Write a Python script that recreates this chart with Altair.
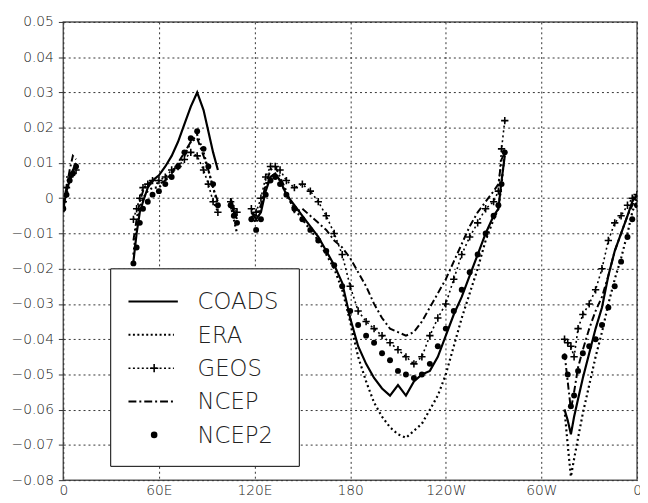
import altair as alt
import pandas as pd

SERIES = ["COADS", "ERA", "GEOS", "NCEP", "NCEP2"]

# ---- longitude grids (degrees east, 0..360) for each ocean segment ----
LON_GUINEA = [0, 2, 4, 6, 8]
LON_INDIAN = [44, 46, 48, 50, 53, 56, 60, 64, 68, 72, 76, 80, 84, 88, 91, 94, 97]
LON_INDONESIA = [105, 107, 109]
LON_PACIFIC = [118, 121, 124, 127, 130, 133, 136, 140, 145, 150, 155, 160, 165, 170,
               175, 180, 185, 190, 195, 200, 205, 210, 215, 220, 225, 230, 235, 240,
               245, 250, 255, 260, 265, 270, 273, 275, 277]
LON_ATLANTIC = [314.5, 316.5, 318.5, 320.5, 323, 326, 330, 334, 338, 342, 346, 350, 354, 357, 360]

# ---- values ----
COADS_GUINEA = [-0.003, 0.002, 0.005, 0.008, 0.009]
ERA_GUINEA = [-0.004, 0.001, 0.005, 0.008, 0.010]
GEOS_GUINEA = [-0.001, 0.003, 0.006, 0.007, 0.008]
NCEP_GUINEA = [-0.002, 0.003, 0.008, 0.012, 0.011]
NCEP2_GUINEA = [-0.003, 0.001, 0.005, 0.007, 0.009]

COADS_INDIAN = [-0.018, -0.010, -0.004, -0.001, 0.003, 0.005, 0.0065, 0.009, 0.012, 0.016,
                0.021, 0.026, 0.030, 0.025, 0.019, 0.013, 0.008]
ERA_INDIAN = [-0.016, -0.008, -0.003, 0.000, 0.002, 0.003, 0.003, 0.005, 0.007, 0.009,
              0.012, 0.016, 0.018, 0.013, 0.008, 0.003, -0.002]
GEOS_INDIAN = [-0.006, -0.003, 0.000, 0.003, 0.004, 0.005, 0.005, 0.006, 0.008, 0.009,
               0.011, 0.013, 0.012, 0.008, 0.004, -0.001, -0.004]
NCEP_INDIAN = [-0.012, -0.006, -0.001, 0.002, 0.004, 0.005, 0.004, 0.005, 0.007, 0.010,
               0.013, 0.016, 0.017, 0.012, 0.008, 0.003, -0.001]
NCEP2_INDIAN = [-0.0185, -0.014, -0.007, -0.003, -0.001, 0.001, 0.002, 0.004, 0.006, 0.009,
                0.013, 0.017, 0.019, 0.014, 0.009, 0.004, -0.002]

COADS_INDONESIA = [-0.001, -0.004, -0.005]
ERA_INDONESIA = [-0.002, -0.006, -0.010]
GEOS_INDONESIA = [-0.001, -0.003, -0.004]
NCEP_INDONESIA = [0.000, -0.003, -0.006]
NCEP2_INDONESIA = [-0.002, -0.005, -0.007]

COADS_PACIFIC = [-0.004, -0.006, -0.004, 0.002, 0.006, 0.007, 0.005, 0.001, -0.002, -0.005,
                 -0.008, -0.011, -0.015, -0.019, -0.024, -0.034, -0.042, -0.047, -0.051, -0.054,
                 -0.056, -0.053, -0.056, -0.052, -0.050, -0.049, -0.045, -0.039, -0.033, -0.028,
                 -0.022, -0.016, -0.010, -0.005, -0.003, 0.005, 0.012]
ERA_PACIFIC = [-0.005, -0.007, -0.003, 0.003, 0.006, 0.007, 0.005, 0.001, -0.003, -0.006,
               -0.009, -0.012, -0.016, -0.020, -0.026, -0.035, -0.045, -0.052, -0.058, -0.062,
               -0.065, -0.067, -0.068, -0.066, -0.064, -0.060, -0.056, -0.050, -0.042, -0.034,
               -0.027, -0.020, -0.012, -0.006, -0.003, 0.004, 0.013]
GEOS_PACIFIC = [-0.003, -0.004, 0.000, 0.006, 0.009, 0.009, 0.008, 0.005, 0.003, 0.004,
                0.002, -0.001, -0.005, -0.010, -0.016, -0.025, -0.032, -0.035, -0.037, -0.039,
                -0.041, -0.043, -0.045, -0.047, -0.045, -0.039, -0.034, -0.030, -0.023, -0.016,
                -0.011, -0.007, -0.003, -0.001, 0.002, 0.014, 0.022]
NCEP_PACIFIC = [-0.004, -0.005, -0.002, 0.004, 0.008, 0.009, 0.006, 0.002, -0.004, -0.003,
                -0.005, -0.007, -0.009, -0.012, -0.014, -0.017, -0.021, -0.025, -0.030, -0.034,
                -0.037, -0.038, -0.039, -0.038, -0.035, -0.031, -0.027, -0.023, -0.018, -0.013,
                -0.008, -0.004, -0.001, 0.002, 0.004, 0.011, 0.013]
NCEP2_PACIFIC = [-0.006, -0.009, -0.006, 0.001, 0.005, 0.006, 0.004, 0.001, -0.003, -0.006,
                 -0.009, -0.012, -0.015, -0.019, -0.025, -0.032, -0.036, -0.039, -0.041, -0.044,
                 -0.046, -0.049, -0.050, -0.051, -0.050, -0.047, -0.042, -0.037, -0.032, -0.026,
                 -0.021, -0.016, -0.010, -0.005, -0.002, 0.004, 0.013]

COADS_ATLANTIC = [-0.060, -0.063, -0.067, -0.062, -0.057, -0.051, -0.044, -0.037, -0.031, -0.022,
                  -0.015, -0.010, -0.005, -0.001, 0.001]
ERA_ATLANTIC = [-0.060, -0.070, -0.079, -0.074, -0.068, -0.061, -0.053, -0.045, -0.038, -0.030,
                -0.023, -0.017, -0.010, -0.004, 0.000]
GEOS_ATLANTIC = [-0.040, -0.041, -0.042, -0.045, -0.037, -0.033, -0.030, -0.026, -0.020, -0.012,
                 -0.007, -0.005, -0.002, 0.000, 0.001]
NCEP_ATLANTIC = [-0.044, -0.052, -0.060, -0.055, -0.048, -0.043, -0.037, -0.032, -0.028, -0.022,
                 -0.015, -0.010, -0.005, -0.002, 0.001]
NCEP2_ATLANTIC = [-0.045, -0.050, -0.059, -0.056, -0.049, -0.044, -0.042, -0.040, -0.036, -0.031,
                  -0.025, -0.018, -0.011, -0.006, -0.002]

X_TICKS = [0, 60, 120, 180, 240, 300, 360]
Y_TICKS = [round(-0.08 + 0.01 * i, 2) for i in range(14)]

# ---- build long table ----
segments = [
    ("guinea", LON_GUINEA, [COADS_GUINEA, ERA_GUINEA, GEOS_GUINEA, NCEP_GUINEA, NCEP2_GUINEA]),
    ("indian", LON_INDIAN, [COADS_INDIAN, ERA_INDIAN, GEOS_INDIAN, NCEP_INDIAN, NCEP2_INDIAN]),
    ("indonesia", LON_INDONESIA, [COADS_INDONESIA, ERA_INDONESIA, GEOS_INDONESIA, NCEP_INDONESIA, NCEP2_INDONESIA]),
    ("pacific", LON_PACIFIC, [COADS_PACIFIC, ERA_PACIFIC, GEOS_PACIFIC, NCEP_PACIFIC, NCEP2_PACIFIC]),
    ("atlantic", LON_ATLANTIC, [COADS_ATLANTIC, ERA_ATLANTIC, GEOS_ATLANTIC, NCEP_ATLANTIC, NCEP2_ATLANTIC]),
]
rows = []
for seg, lons, series_vals in segments:
    for name, vals in zip(SERIES, series_vals):
        for lon, v in zip(lons, vals):
            rows.append({"series": name, "seg": seg, "lon": lon, "val": v})
df = pd.DataFrame(rows)

FONT = "DejaVu Sans"
FONT_WEIGHT = 200
GRID_DASH = [2, 3]

x_enc = alt.X(
    "lon:Q",
    scale=alt.Scale(domain=[0, 360], nice=False, zero=False),
    axis=alt.Axis(
        values=X_TICKS,
        labelExpr="datum.value == 0 || datum.value == 360 ? '0' : datum.value < 180 ? datum.value + 'E' : datum.value == 180 ? '180' : (360 - datum.value) + 'W'",
        grid=True, gridDash=GRID_DASH, gridColor="#333", gridWidth=1,
        domain=False, ticks=False, tickSize=0, labelPadding=4,
        labelFont=FONT, labelFontSize=14, labelFontWeight=FONT_WEIGHT, labelColor="#222",
        labelFlush=False, labelOverlap=False, title=None,
    ),
)
y_enc = alt.Y(
    "val:Q",
    scale=alt.Scale(domain=[-0.08, 0.05], nice=False, zero=False),
    axis=alt.Axis(
        values=Y_TICKS,
        labelExpr="abs(datum.value) < 1e-9 ? '0' : replace(format(datum.value, '.2f'), '-', '\u2212')",
        grid=True, gridDash=GRID_DASH, gridColor="#333", gridWidth=1,
        domain=False, ticks=True, tickSize=5, tickColor="#333", labelPadding=5,
        labelFont=FONT, labelFontSize=14, labelFontWeight=FONT_WEIGHT, labelColor="#222",
        labelOverlap=False, title=None,
    ),
)

base = alt.Chart(df)


def sel(name):
    return base.transform_filter(alt.datum.series == name)


PLUS = "M-1,0H1M0,-1V1"

coads = sel("COADS").mark_line(color="black", strokeWidth=2.2, clip=True).encode(x_enc, y_enc, detail="seg:N")
era = sel("ERA").mark_line(color="black", strokeWidth=2.2, strokeDash=[2, 3], clip=True).encode(x_enc, y_enc, detail="seg:N")
geos_l = sel("GEOS").mark_line(color="black", strokeWidth=1.6, strokeDash=[2, 3], clip=True).encode(x_enc, y_enc, detail="seg:N")
geos_p = sel("GEOS").mark_point(shape=PLUS, size=55, filled=False, stroke="black", strokeWidth=1.6, opacity=1, clip=True).encode(x_enc, y_enc)
ncep = sel("NCEP").mark_line(color="black", strokeWidth=2, strokeDash=[7, 3, 2, 3], clip=True).encode(x_enc, y_enc, detail="seg:N")
ncep2 = sel("NCEP2").mark_circle(color="black", size=36, opacity=1, clip=True).encode(x_enc, y_enc)

# ---- legend (drawn by hand, GrADS style) ----
one = pd.DataFrame({"k": [0]})
legend_df = pd.DataFrame({"label": SERIES})
box = alt.Chart(one).mark_rect(fill="white", stroke="black", strokeWidth=1).encode(
    x=alt.value(48), x2=alt.value(239), y=alt.value(250), y2=alt.value(450)
)
ROW_Y = [283 + 33.8 * i for i in range(5)]
leg = [box]
for i, name in enumerate(SERIES):
    yy = ROW_Y[i]
    if name == "COADS":
        leg.append(alt.Chart(one).mark_rule(color="black", strokeWidth=2).encode(
            x=alt.value(66), x2=alt.value(116), y=alt.value(yy)))
    elif name == "ERA":
        leg.append(alt.Chart(one).mark_rule(color="black", strokeWidth=2, strokeDash=[2, 2.5]).encode(
            x=alt.value(66), x2=alt.value(112), y=alt.value(yy)))
    elif name == "GEOS":
        leg.append(alt.Chart(one).mark_rule(color="black", strokeWidth=1.5, strokeDash=[2, 2.5]).encode(
            x=alt.value(66), x2=alt.value(112), y=alt.value(yy)))
        leg.append(alt.Chart(one).mark_point(shape=PLUS, size=70, filled=False, stroke="black", strokeWidth=1.6, opacity=1).encode(
            x=alt.value(92), y=alt.value(yy)))
    elif name == "NCEP":
        leg.append(alt.Chart(one).mark_rule(color="black", strokeWidth=2, strokeDash=[8, 3, 2, 3]).encode(
            x=alt.value(66), x2=alt.value(112), y=alt.value(yy)))
    else:
        leg.append(alt.Chart(one).mark_circle(color="black", size=45, opacity=1).encode(
            x=alt.value(92), y=alt.value(yy)))
    leg.append(
        alt.Chart(legend_df).transform_filter(alt.datum.label == name)
        .mark_text(align="left", baseline="middle", font=FONT, fontSize=23, fontWeight=FONT_WEIGHT, color="#222", dy=1)
        .encode(x=alt.value(136), y=alt.value(yy), text="label:N")
    )

chart = alt.layer(coads, era, geos_l, geos_p, ncep, ncep2, *leg).properties(
    width=581,
    height=464,
    autosize=alt.AutoSizeParams(type="none"),
    padding={"left": 56, "top": 11, "right": 3, "bottom": 20},
    background="white",
).configure_view(stroke="#555", strokeWidth=1.5)

chart.save("out.html", embed_options={"renderer": "svg", "actions": False})
